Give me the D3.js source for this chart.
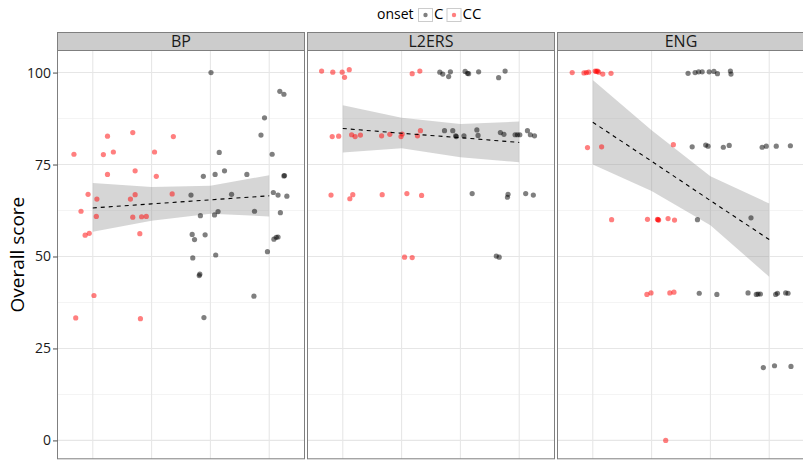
<!DOCTYPE html>
<html>
<head>
<meta charset="utf-8">
<script src="https://cdn.jsdelivr.net/npm/d3@7/dist/d3.min.js"></script>
<style>
  body { margin: 0; background: #fff; }
  svg { display: block; font-family: "Open Sans", "DejaVu Sans", sans-serif; }
</style>
</head>
<body>
<svg id="chart" width="803" height="460"></svg>
<script>
// ---------- data ----------
const panels = ["BP", "L2ERS", "ENG"];
const onsetLevels = ["C", "CC"];
const yTicks = [0, 25, 50, 75, 100];
const yMinor = [12.5, 37.5, 62.5, 87.5];
const xLevels = [1, 2, 3, 4];

// jittered points [x, score]
const bpCC = [[0.68,77.8],[0.80,62.3],[0.92,66.9],[1.07,65.6],[1.06,60.9],[1.18,77.7],[1.25,82.7],[1.25,72.3],[1.35,78.4],[1.64,65.6],[1.68,60.7],[1.68,83.7],[1.72,73.3],[1.72,66.8],[1.83,60.8],[1.91,60.9],[2.05,78.4],[2.08,71.8],[2.35,67.0],[2.37,82.6],[0.87,55.8],[0.94,56.3],[1.02,39.4],[0.71,33.3],[1.80,56.2],[1.81,33.1]];
const bpC = [[2.67,66.7],[2.88,71.8],[2.83,61.1],[3.01,100],[3.07,61.3],[3.13,62.2],[3.08,72.3],[3.15,78.3],[3.24,73.3],[3.36,66.9],[3.62,72.3],[3.75,62.3],[3.86,83.0],[3.92,87.7],[4.05,77.8],[4.07,67.4],[4.15,66.7],[4.18,94.9],[4.25,94.1],[4.25,71.9],[4.26,72.0],[4.19,61.9],[4.30,66.4],[2.69,56.0],[2.73,54.6],[2.91,55.9],[2.70,49.6],[3.09,50.4],[2.82,45.2],[2.81,44.8],[2.89,33.4],[3.74,39.2],[3.97,51.3],[4.08,54.7],[4.12,55.2],[4.15,55.3]];
const l2CC = [[0.64,100.4],[0.83,100.1],[0.99,100.1],[1.03,98.7],[1.11,100.8],[2.18,99.7],[2.31,100.4],[0.82,82.6],[0.93,82.7],[1.15,83.1],[1.21,82.6],[1.30,83.0],[1.66,82.8],[1.80,83.2],[1.99,82.6],[2.01,83.3],[2.27,82.8],[2.32,84.2],[0.80,66.7],[1.12,65.7],[1.17,66.8],[1.67,66.8],[2.09,67.1],[2.34,66.6],[2.05,49.8],[2.18,49.7]];
const l2C = [[2.65,100.1],[2.70,99.6],[2.80,98.9],[2.83,100.2],[3.08,100.3],[3.12,99.8],[3.14,99.7],[3.31,100.2],[3.65,98.6],[3.76,100.4],[2.73,84.2],[2.87,84.2],[2.92,82.8],[2.93,82.6],[3.06,82.8],[3.28,84.4],[3.30,82.9],[3.68,83.7],[3.74,83.2],[3.93,83.1],[3.97,83.1],[4.01,83.1],[4.14,84.2],[4.19,83.1],[4.26,82.8],[3.20,67.1],[3.81,66.9],[3.80,66.1],[4.11,67.1],[4.24,66.7],[3.61,50.1],[3.66,49.8]];
const engCC = [[0.65,100],[0.85,99.9],[0.89,100],[0.93,100.1],[1.04,100.4],[1.06,100.3],[1.08,100.4],[1.10,100.1],[1.17,99.6],[1.31,99.8],[0.91,79.6],[1.15,79.8],[2.37,80.4],[1.32,60.0],[1.93,60.1],[2.10,60.1],[2.11,60.0],[2.12,59.9],[2.28,60.3],[2.39,59.9],[1.92,39.7],[1.99,40.1],[2.31,40.1],[2.38,40.3],[2.24,0]];
const engC = [[2.62,99.8],[2.74,100],[2.80,100.2],[2.86,100.2],[2.98,100.2],[3.06,100.3],[3.12,99.7],[3.34,100.4],[3.35,99.6],[2.69,79.8],[2.92,80.3],[2.96,80.0],[3.22,79.7],[3.32,80.2],[3.88,79.7],[3.95,80.0],[4.12,80.0],[4.36,80.1],[2.78,60.0],[3.69,60.5],[2.81,40.0],[3.11,39.7],[3.64,40.1],[3.78,39.7],[3.81,39.8],[3.85,39.8],[4.11,39.7],[4.14,40.0],[4.28,40.1],[4.32,40.0],[3.90,19.8],[4.09,20.3],[4.37,20.1]];

// smooth (fit and confidence band at each level)
const bpFit = [63.2, 64.3, 65.4, 66.5];
const bpLo  = [56.7, 59.7, 61.6, 60.9];
const bpHi  = [70.0, 68.9, 69.2, 72.1];
const l2Fit = [84.8, 83.5, 82.3, 81.0];
const l2Lo  = [78.3, 79.4, 77.0, 75.6];
const l2Hi  = [91.1, 87.7, 86.0, 86.7];
const engFit = [86.5, 75.9, 65.2, 54.6];
const engLo  = [75.0, 67.8, 58.5, 44.5];
const engHi  = [98.0, 84.3, 71.8, 64.4];

const panelData = [
  { name: panels[0], C: bpC, CC: bpCC, fit: bpFit, lo: bpLo, hi: bpHi },
  { name: panels[1], C: l2C, CC: l2CC, fit: l2Fit, lo: l2Lo, hi: l2Hi },
  { name: panels[2], C: engC, CC: engCC, fit: engFit, lo: engLo, hi: engHi }
];

// ---------- layout ----------
const svg = d3.select("#chart");
const panelLeft0 = 57.5, panelW = 247, panelGap = 3;
const stripTop = 32.5, stripH = 18;
const panelTop = stripTop + stripH, panelBottom = 458.8;

const x = d3.scaleLinear().domain([0.4, 4.6]).range([0, panelW]);
const y = d3.scaleLinear().domain([-5, 106]).range([panelBottom, panelTop]);
const colour = d3.scaleOrdinal().domain(onsetLevels).range(["#000000", "#ff0000"]);

panelData.forEach((p, i) => {
  const g = svg.append("g").attr("transform", `translate(${panelLeft0 + i * (panelW + panelGap)},0)`);
  // background
  g.append("rect").attr("x", 0).attr("y", panelTop).attr("width", panelW).attr("height", panelBottom - panelTop).attr("fill", "#fff");
  // minor grid
  g.selectAll("line.ymin").data(yMinor).enter().append("line")
    .attr("x1", 0).attr("x2", panelW).attr("y1", d => y(d)).attr("y2", d => y(d))
    .attr("stroke", "#f4f4f4").attr("stroke-width", 1);
  // major grid
  g.selectAll("line.ymaj").data(yTicks).enter().append("line")
    .attr("x1", 0).attr("x2", panelW).attr("y1", d => y(d)).attr("y2", d => y(d))
    .attr("stroke", "#e6e6e6").attr("stroke-width", 1.1);
  g.selectAll("line.xmaj").data(xLevels).enter().append("line")
    .attr("x1", d => x(d)).attr("x2", d => x(d)).attr("y1", panelTop).attr("y2", panelBottom)
    .attr("stroke", "#e6e6e6").attr("stroke-width", 1.1);

  // ribbon
  const band = xLevels.map((lv, k) => ({ x: lv, lo: p.lo[k], hi: p.hi[k], fit: p.fit[k] }));
  g.append("path").datum(band)
    .attr("d", d3.area().x(d => x(d.x)).y0(d => y(d.lo)).y1(d => y(d.hi)))
    .attr("fill", "#999999").attr("fill-opacity", 0.4);

  // points
  onsetLevels.forEach(o => {
    g.selectAll(null).data(p[o]).enter().append("circle")
      .attr("cx", d => x(d[0])).attr("cy", d => y(d[1])).attr("r", 2.6)
      .attr("fill", colour(o)).attr("fill-opacity", 0.5);
  });

  // fit line
  g.append("path").datum(band)
    .attr("d", d3.line().x(d => x(d.x)).y(d => y(d.fit)))
    .attr("fill", "none").attr("stroke", "#000").attr("stroke-width", 1.1)
    .attr("stroke-dasharray", "4,4");

  // border
  g.append("rect").attr("x", 0).attr("y", panelTop).attr("width", panelW).attr("height", panelBottom - panelTop)
    .attr("fill", "none").attr("stroke", "#7f7f7f").attr("stroke-width", 1);

  // strip
  g.append("rect").attr("x", 0).attr("y", stripTop).attr("width", panelW).attr("height", stripH)
    .attr("fill", "#cccccc").attr("stroke", "#7f7f7f").attr("stroke-width", 1);
  g.append("text").attr("x", panelW / 2).attr("y", stripTop + stripH / 2 + 1).attr("text-anchor", "middle")
    .attr("dominant-baseline", "middle").attr("font-size", 16).attr("fill", "#1a1a1a").text(p.name);
});

// y axis
const yAxis = d3.axisLeft(y).tickValues(yTicks).tickSize(4.5).tickPadding(2);
const ya = svg.append("g").attr("transform", `translate(${panelLeft0},0)`).call(yAxis);
ya.select(".domain").remove();
ya.selectAll(".tick line").attr("stroke", "#4d4d4d");
ya.selectAll(".tick text").attr("font-size", 14).attr("fill", "#1a1a1a").attr("font-family", "Open Sans, DejaVu Sans, sans-serif");

// y title
svg.append("text").attr("transform", `translate(24,${(panelTop + panelBottom) / 2}) rotate(-90)`)
  .attr("text-anchor", "middle").attr("font-size", 19).attr("fill", "#000").text("Overall score");

// legend
const lg = svg.append("g");
lg.append("text").attr("x", 377).attr("y", 15).attr("dominant-baseline", "middle").attr("font-size", 14).attr("fill", "#000").text("onset");
const keyX = [418.5, 447];
const labX = [434, 462.5];
onsetLevels.forEach((o, i) => {
  lg.append("rect").attr("x", keyX[i]).attr("y", 8.5).attr("width", 14).attr("height", 13)
    .attr("fill", "#fff").attr("stroke", "#cccccc").attr("stroke-width", 1);
  lg.append("circle").attr("cx", keyX[i] + 7).attr("cy", 15).attr("r", 2.2)
    .attr("fill", colour(o)).attr("fill-opacity", 0.5);
  lg.append("text").attr("x", labX[i]).attr("y", 15).attr("dominant-baseline", "middle")
    .attr("font-size", 15).attr("fill", "#000").text(o);
});
</script>
</body>
</html>
